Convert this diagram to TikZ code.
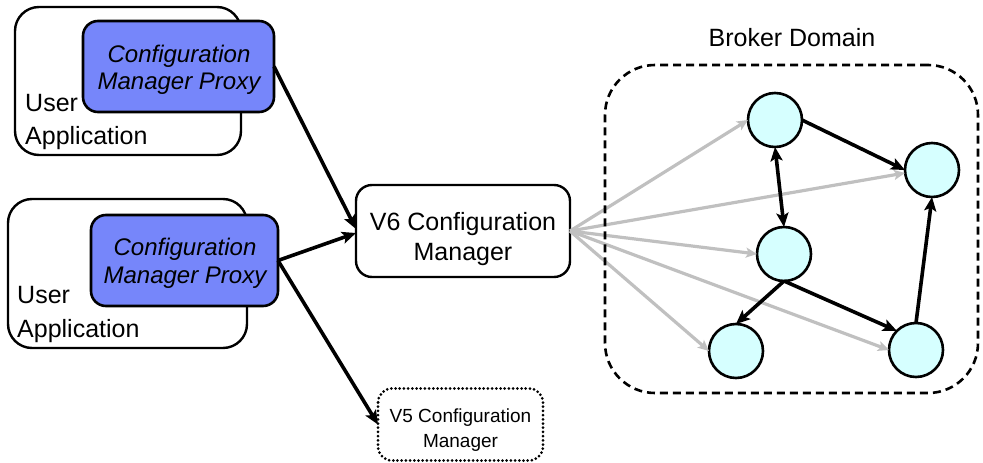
\documentclass[tikz,border=0pt]{standalone}
\usepackage{fontspec}
\setmainfont{Liberation Sans}
\usetikzlibrary{arrows.meta}
\definecolor{proxyblue}{RGB}{118,134,250}
\definecolor{cyanfill}{RGB}{214,255,255}
\definecolor{arrgray}{RGB}{192,192,192}
\begin{document}
\begin{tikzpicture}[x=1pt,y=-1pt,
  appbox/.style={draw, line width=2.4pt, rounded corners=24pt, fill=white, inner sep=0pt, outer sep=0pt},
  proxybox/.style={draw, line width=2.6pt, rounded corners=15pt, fill=proxyblue, inner sep=0pt, outer sep=0pt},
  cmbox/.style={draw, line width=2.4pt, rounded corners=16pt, fill=white, inner sep=0pt, outer sep=0pt},
  lbl/.style={anchor=base west, inner sep=0pt, font=\fontsize{25}{30}\selectfont},
  ctr/.style={anchor=base, inner sep=0pt},
  ptxt/.style={ctr, font=\fontsize{24}{27}\selectfont\itshape},
  v6txt/.style={ctr, font=\fontsize{25}{30}\selectfont},
  v5txt/.style={ctr, font=\fontsize{19}{25}\selectfont},
  brk/.style={circle, draw, line width=2.6pt, fill=cyanfill, minimum size=54pt, inner sep=0pt, outer sep=0pt},
  blk/.style={line width=3.6pt, -{Stealth[length=14pt,width=12pt,inset=3pt]}},
  gry/.style={draw=arrgray, line width=3.2pt, -{Stealth[length=11pt,width=10pt,inset=2.5pt]}}
]
\useasboundingbox (0,0) rectangle (983,463);

% user applications
\node[appbox, minimum width=226pt, minimum height=148pt] (ua1) at (128,81) {};
\node[lbl] (ua1u) at (25,111) {User};
\node[lbl] (ua1a) at (25,144) {Application};
\node[proxybox, minimum width=191pt, minimum height=91pt] (px1) at (178.5,66.5) {};
\node[ptxt] (px1a) at (179,62) {Configuration};
\node[ptxt] (px1b) at (179,89) {Manager Proxy};

\node[appbox, minimum width=239pt, minimum height=149pt] (ua2) at (127.5,273.5) {};
\node[lbl] (ua2u) at (17,303) {User};
\node[lbl] (ua2a) at (17,337) {Application};
\node[proxybox, minimum width=187pt, minimum height=91pt] (px2) at (184.5,260.5) {};
\node[ptxt] (px2a) at (185,255) {Configuration};
\node[ptxt] (px2b) at (185,283) {Manager Proxy};

% configuration managers
\node[cmbox, minimum width=214pt, minimum height=92pt] (v6) at (463,231) {};
\node[v6txt] (v6a) at (463,230) {V6 Configuration};
\node[v6txt] (v6b) at (463,260) {Manager};

\node[inner sep=0pt, outer sep=0pt, minimum width=165pt, minimum height=72pt] (v5) at (460.5,424.5) {};
\draw[line width=3pt, line cap=round, dash pattern=on 0pt off 4.2pt, rounded corners=14pt]
  (v5.north west) rectangle (v5.south east);
\node[v5txt] (v5a) at (460.5,422) {V5 Configuration};
\node[v5txt] (v5b) at (460.5,447) {Manager};

% broker domain
\node[inner sep=0pt, font=\fontsize{25}{30}\selectfont] (bdl) at (792,38) {Broker Domain};

\node[brk] (c1) at (775,120) {};
\node[brk] (c2) at (932,170) {};
\node[brk] (c3) at (784,254) {};
\node[brk] (c4) at (736,351) {};
\node[brk] (c5) at (916,350) {};

% gray arrows
\draw[gry] (v6.east) -- (c1.west);
\draw[gry] (v6.east) -- ([yshift=-3pt]c2.west);
\draw[gry] (v6.east) -- (c3.west);
\draw[gry] (v6.east) -- (c4.west);
\draw[gry] (v6.east) -- (c5.west);

\node[draw, line width=2.6pt, dash pattern=on 8pt off 5pt, rounded corners=50pt, minimum width=373pt, minimum height=328pt, inner sep=0pt] (broker) at (791.5,229) {};

% black arrows
\draw[blk] (px1.east) -- ([yshift=2pt]v6.west);
\draw[blk] (px2.east) -- ([yshift=-2pt]v6.west);
\draw[blk] (px2.east) -- (v5.west);

\draw[blk] (c1.east) -- (c2.west);
\draw[line width=3.6pt, {Stealth[length=14pt,width=12pt,inset=3pt]}-{Stealth[length=14pt,width=12pt,inset=3pt]}] (c1.south) -- (c3.north);
\draw[blk] (c3.south) -- (c4.north);
\draw[blk] (c3.south) -- (c5.135);
\draw[blk] (c5.north) -- (c2.south);
\end{tikzpicture}
\end{document}
